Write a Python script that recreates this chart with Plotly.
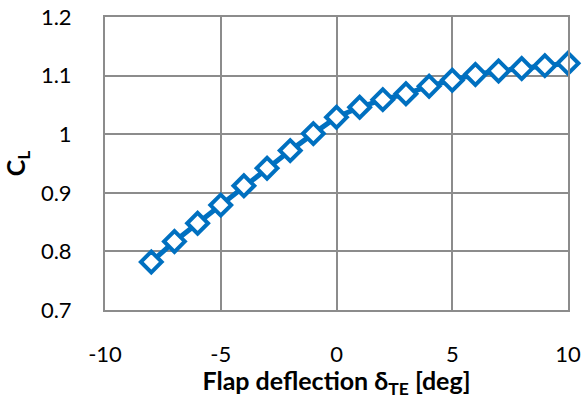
import plotly.graph_objects as go

# Flap deflection sweep and resulting lift coefficient
deflection_deg = [-8, -7, -6, -5, -4, -3, -2, -1, 0, 1, 2, 3, 4, 5, 6, 7, 8, 9, 10]
lift_coeff = [0.782, 0.817, 0.848, 0.879, 0.912, 0.942, 0.972, 1.001, 1.029, 1.046,
              1.059, 1.069, 1.082, 1.092, 1.102, 1.108, 1.112, 1.117, 1.121]

x_ticks = [-10, -5, 0, 5, 10]
x_tick_text = ["-10", "-5", "0", "5", "10"]
y_ticks = [0.7, 0.8, 0.9, 1.0, 1.1, 1.2]
y_tick_text = ["0.7", "0.8", "0.9", "1", "1.1", "1.2"]

BLUE = "#0070C0"
GRID = "#8c8c8c"
FONT = "Lato, Open Sans, sans-serif"

fig = go.Figure(
    go.Scatter(
        x=deflection_deg,
        y=lift_coeff,
        mode="lines+markers",
        line=dict(color=BLUE, width=5),
        marker=dict(symbol="diamond", size=16, color="white",
                    line=dict(color=BLUE, width=4)),
        showlegend=False,
        cliponaxis=False,
    )
)

fig.update_layout(
    width=584,
    height=399,
    margin=dict(l=105, r=16, t=17, b=89),
    paper_bgcolor="white",
    plot_bgcolor="white",
    font=dict(family=FONT, size=22, color="black"),
)

fig.update_xaxes(
    range=[-10, 10],
    tickvals=x_ticks,
    ticktext=x_tick_text,
    automargin=False,
    showgrid=True, gridcolor=GRID, gridwidth=2,
    showline=True, linecolor=GRID, linewidth=2, mirror=True,
    zeroline=False,
    ticks="",
    ticklabelstandoff=24,
    tickfont=dict(size=22),
    title=dict(text="<b>Flap deflection δ<sub>TE</sub> [deg]</b>",
               font=dict(size=25), standoff=3),
)

fig.update_yaxes(
    range=[0.7, 1.2],
    tickvals=y_ticks,
    ticktext=y_tick_text,
    automargin=False,
    showgrid=True, gridcolor=GRID, gridwidth=2,
    showline=True, linecolor=GRID, linewidth=2, mirror=True,
    zeroline=False,
    ticks="",
    ticklabelstandoff=27,
    tickfont=dict(size=22),
    title=dict(text="<b>C<sub>L</sub></b>", font=dict(size=25), standoff=12),
)

fig.write_html("out.html")
